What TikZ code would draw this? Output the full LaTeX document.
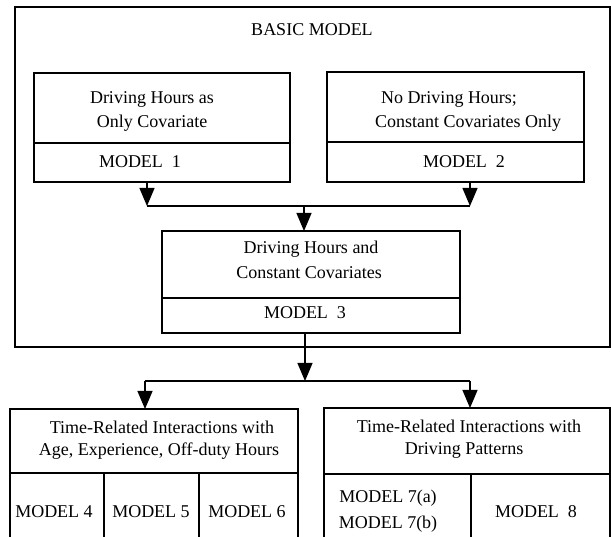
\documentclass[tikz,border=0pt]{standalone}
\usepackage{fontspec}
\setmainfont{Liberation Serif}
\usetikzlibrary{arrows.meta}
\begin{document}
\begin{tikzpicture}[x=1pt,y=-1pt,
  line width=1.25pt,
  cell/.style={draw, rectangle, inner sep=0pt, outer sep=0pt},
  lbl/.style={inner sep=0pt, text height=12pt, text depth=4pt, font=\fontsize{18}{22}\selectfont},
  arr/.style={-{Triangle[width=15pt,length=18pt]}},
]
\path[use as bounding box] (0,0) rectangle (611,537);
\clip (0,0) rectangle (611,537);

% outer frame
\node[cell, line width=1.35pt, minimum width=595pt, minimum height=340pt] (outer) at (312.5,177) {};
\node[lbl] (title) at (312,32) {BASIC MODEL};

% model 1
\node[cell, minimum width=256pt, minimum height=70pt] (b1top) at (162,108) {};
\node[cell, minimum width=256pt, minimum height=39pt] (b1bot) at (162,162.5) {};
\node[lbl] (t1a) at (152,100) {Driving Hours as};
\node[lbl] (t1b) at (152,124) {Only Covariate};
\node[lbl] (m1) at (140,164) {MODEL\ \ 1};

% model 2
\node[cell, minimum width=257pt, minimum height=70pt] (b2top) at (455.5,107) {};
\node[cell, minimum width=257pt, minimum height=40pt] (b2bot) at (455.5,162) {};
\node[lbl] (t2a) at (449,100) {No Driving Hours;};
\node[lbl] (t2b) at (468,124) {Constant Covariates Only};
\node[lbl] (m2) at (464,164) {MODEL\ \ 2};

% model 3
\node[cell, minimum width=298pt, minimum height=67pt] (b3top) at (311,264.5) {};
\node[cell, minimum width=298pt, minimum height=35pt] (b3bot) at (311,315.5) {};
\node[lbl] (t3a) at (311,250) {Driving Hours and};
\node[lbl] (t3b) at (309,275) {Constant Covariates};
\node[lbl] (m3) at (305,315) {MODEL\ \ 3};

% junctions
\coordinate (jL) at (147,206);
\coordinate (jR) at (470,206);
\coordinate (jM) at (304,206);
\coordinate (kM) at (305,381);
\coordinate (kL) at (145,381);
\coordinate (kR) at (470,381);

\draw[arr] (b1bot.south -| jL) -- (jL);
\draw[arr] (b2bot.south -| jR) -- (jR);
\draw (jL) -- (jR);
\draw[arr] (jM) -- (b3top.north -| jM);

% bottom left group
\node[cell, minimum width=288pt, minimum height=64pt] (b4top) at (154,441) {};
\node[cell, minimum width=94pt, minimum height=72pt] (c4) at (57,509) {};
\node[cell, minimum width=95pt, minimum height=72pt] (c5) at (151.5,509) {};
\node[cell, minimum width=99pt, minimum height=72pt] (c6) at (248.5,509) {};
\node[lbl] (t4a) at (162,430) {Time-Related Interactions with};
\node[lbl] (t4b) at (159,452) {Age, Experience, Off-duty Hours};
\node[lbl] (m4) at (54,514) {MODEL 4};
\node[lbl] (m5) at (151,514) {MODEL 5};
\node[lbl] (m6) at (247,514) {MODEL 6};

% bottom right group
\node[cell, minimum width=286pt, minimum height=66pt] (b5top) at (467,441) {};
\node[cell, minimum width=147pt, minimum height=71pt] (c7) at (397.5,509.5) {};
\node[cell, minimum width=139pt, minimum height=71pt] (c8) at (540.5,509.5) {};
\node[lbl] (t5a) at (469,429) {Time-Related Interactions with};
\node[lbl] (t5b) at (464,450) {Driving Patterns};
\node[lbl] (m7a) at (388,499) {MODEL 7(a)};
\node[lbl] (m7b) at (388,524) {MODEL 7(b)};
\node[lbl] (m8) at (536,514) {MODEL\ \ 8};

\draw[arr] (b3bot.south -| kM) -- (kM);
\draw (kL) -- (kR);
\draw[arr] (kL) -- (b4top.north -| kL);
\draw[arr] (kR) -- (b5top.north -| kR);
\end{tikzpicture}
\end{document}
